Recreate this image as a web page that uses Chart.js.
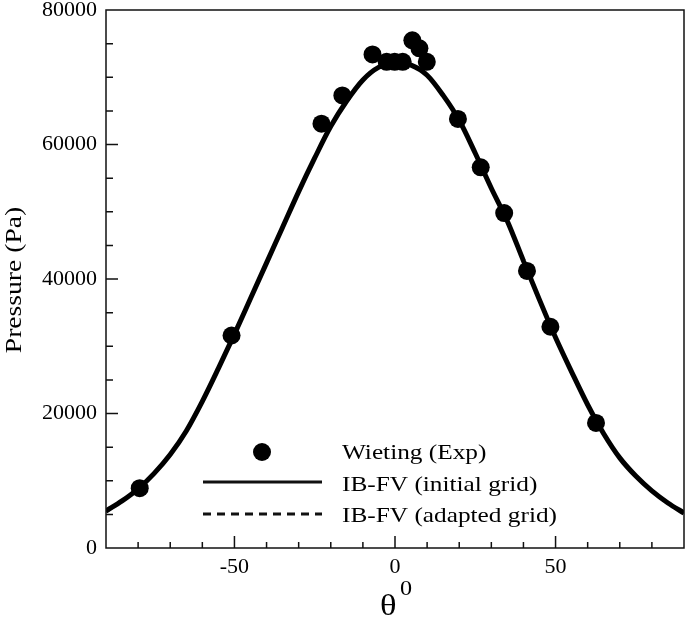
<!DOCTYPE html>
<html>
<head>
<meta charset="utf-8">
<script src="https://cdn.jsdelivr.net/npm/chart.js@4.4.1/dist/chart.umd.min.js"></script>
<style>
  html, body { margin: 0; padding: 0; background: #fff; }
  #wrap { width: 685px; height: 628px; }
</style>
</head>
<body>
<div id="wrap"><canvas id="chart" width="685" height="628"></canvas></div>
<script>
const EXP_X = [-79.5, -50.9, -22.9, -16.4, -7.0, -2.6, -0.1, 2.4, 5.4, 7.6, 9.9, 19.6, 26.7, 34.0, 41.1, 48.4, 62.6];
const EXP_Y = [8900, 31600, 63100, 67300, 73400, 72300, 72300, 72300, 75500, 74300, 72300, 63800, 56600, 49800, 41200, 32900, 18600];

// IB-FV curves (both grids overlap in the picture)
const CURVE_X = [-90, -85, -80, -75, -70, -65, -60, -55, -50, -45, -40, -35, -30, -25, -20, -15, -10, -5, 0,
                 5, 10, 15, 20, 25, 30, 35, 40, 45, 50, 55, 60, 65, 70, 75, 80, 85, 90];
const INITIAL_Y = [5500, 7000, 8800, 11100, 13900, 17400, 21800, 26700, 31800, 37100, 42400, 47700, 53000, 58000,
                   62700, 66500, 69600, 71500, 72200, 71800, 70300, 67300, 63600, 58700, 53500, 48600, 42700,
                   36900, 31300, 26200, 21300, 17000, 13400, 10700, 8500, 6700, 5200];
const ADAPTED_Y = [5400, 7000, 8800, 11100, 13900, 17400, 21800, 26700, 31800, 37100, 42400, 47700, 53000, 58000,
                   62700, 66500, 69600, 71500, 72100, 71800, 70300, 67300, 63600, 58700, 53500, 48600, 42700,
                   36900, 31300, 26200, 21300, 17000, 13400, 10700, 8500, 6700, 5300];

const X_TICKS = [-50, 0, 50];
const Y_TICKS = [0, 20000, 40000, 60000, 80000];
const LEGEND = ['Wieting (Exp)', 'IB-FV (initial grid)', 'IB-FV (adapted grid)'];

const SERIF = '"Liberation Serif", "Times New Roman", Times, serif';

function pts(xs, ys) {
  return xs.map((x, i) => ({ x, y: ys[i] }));
}

function noPad(s) {
  s.paddingLeft = 0;
  s.paddingRight = 0;
  s.paddingTop = 0;
  s.paddingBottom = 0;
}

// inward ticks, frame, legend and the theta title
const decor = {
  id: 'decor',
  afterDraw(chart) {
    const { ctx, chartArea: a, scales } = chart;
    const sx = scales.x, sy = scales.y;
    ctx.save();
    ctx.strokeStyle = '#111';
    ctx.lineWidth = 1.5;
    ctx.strokeRect(a.left, a.top, a.right - a.left, a.bottom - a.top);

    ctx.beginPath();
    for (let v = -80; v <= 80; v += 10) {
      const px = sx.getPixelForValue(v);
      const len = v % 50 === 0 ? 12 : 6;
      ctx.moveTo(px, a.bottom);
      ctx.lineTo(px, a.bottom - len);
    }
    for (let v = 5000; v < 80000; v += 5000) {
      const py = sy.getPixelForValue(v);
      const len = v % 20000 === 0 ? 12 : 7;
      ctx.moveTo(a.left, py);
      ctx.lineTo(a.left + len, py);
    }
    ctx.stroke();

    // legend
    ctx.fillStyle = '#000';
    ctx.beginPath();
    ctx.arc(262, 452, 9, 0, Math.PI * 2);
    ctx.fill();
    ctx.lineWidth = 3;
    ctx.beginPath();
    ctx.moveTo(203, 482);
    ctx.lineTo(322, 482);
    ctx.stroke();
    ctx.setLineDash([8, 6]);
    ctx.beginPath();
    ctx.moveTo(203, 514);
    ctx.lineTo(322, 514);
    ctx.stroke();
    ctx.setLineDash([]);

    ctx.font = '22px ' + SERIF;
    ctx.textBaseline = 'alphabetic';
    ctx.textAlign = 'left';
    [459, 491, 522].forEach((y, i) => {
      ctx.save();
      ctx.translate(342, y);
      ctx.scale(1.15, 1);
      ctx.fillText(LEGEND[i], 0, 0);
      ctx.restore();
    });

    // y title
    ctx.save();
    ctx.translate(21, 280);
    ctx.rotate(-Math.PI / 2);
    ctx.textAlign = 'center';
    ctx.font = '24px ' + SERIF;
    ctx.scale(1.15, 1);
    ctx.fillText('Pressure (Pa)', 0, 0);
    ctx.restore();

    // x title: theta with superscript 0
    ctx.font = '30px ' + SERIF;
    ctx.textAlign = 'left';
    ctx.save();
    ctx.translate(380, 615);
    ctx.scale(1.15, 1);
    ctx.fillText('\u03b8', 0, 0);
    ctx.restore();
    ctx.font = '21px ' + SERIF;
    ctx.save();
    ctx.translate(400, 595);
    ctx.scale(1.15, 1);
    ctx.fillText('0', 0, 0);
    ctx.restore();
    ctx.restore();
  }
};

function draw() {
  new Chart(document.getElementById('chart'), {
    type: 'scatter',
    data: {
      datasets: [
        {
          label: LEGEND[2],
          data: pts(CURVE_X, ADAPTED_Y),
          showLine: true,
          borderColor: '#000',
          borderWidth: 3,
          borderDash: [8, 6],
          pointRadius: 0,
          cubicInterpolationMode: 'monotone',
          order: 2
        },
        {
          label: LEGEND[1],
          data: pts(CURVE_X, INITIAL_Y),
          showLine: true,
          borderColor: '#000',
          borderWidth: 5,
          pointRadius: 0,
          cubicInterpolationMode: 'monotone',
          order: 1
        },
        {
          label: LEGEND[0],
          data: pts(EXP_X, EXP_Y),
          showLine: false,
          backgroundColor: '#000',
          borderColor: '#000',
          pointRadius: 9,
          borderWidth: 0,
          order: 0
        }
      ]
    },
    options: {
      responsive: false,
      animation: false,
      layout: { autoPadding: false, padding: { top: 10, right: 1, left: 0, bottom: 0 } },
      plugins: {
        legend: { display: false },
        tooltip: { enabled: false }
      },
      scales: {
        x: {
          type: 'linear',
          min: -90,
          max: 90,
          afterBuildTicks: s => { s.ticks = X_TICKS.map(v => ({ value: v })); },
          afterFit: s => { s.height = 80; noPad(s); },
          grid: { display: false, drawTicks: false },
          border: { display: false },
          ticks: {
            padding: 6,
            color: '#000',
            maxRotation: 0,
            callback: v => String(v),
            font: { family: SERIF, size: 22 }
          }
        },
        y: {
          min: 0,
          max: 80000,
          afterBuildTicks: s => { s.ticks = Y_TICKS.map(v => ({ value: v })); },
          afterFit: s => { s.width = 106; noPad(s); },
          grid: { display: false, drawTicks: false },
          border: { display: false },
          ticks: {
            padding: 9,
            color: '#000',
            callback: v => String(v),
            font: { family: SERIF, size: 22 }
          }
        }
      }
    },
    plugins: [decor]
  });
}

if (document.fonts && document.fonts.load) {
  document.fonts.load('22px "Liberation Serif"').then(draw, draw);
} else {
  draw();
}
</script>
</body>
</html>
